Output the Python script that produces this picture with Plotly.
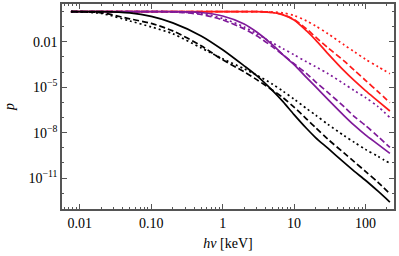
import plotly.graph_objects as go

# photon energy grid (keV)
energy = [0.0075, 0.02, 0.05, 0.1, 0.2, 0.5, 1, 2, 3, 5, 7, 10, 15, 20, 30, 50, 70, 100, 150, 220]

black_solid = [1.0, 0.985, 0.81, 0.48, 0.18, 0.0248, 0.0030, 2.6e-4, 5.8e-5, 6.0e-6, 1.13e-6, 1.57e-7, 1.89e-8, 4.8e-9, 9.1e-10, 1.09e-10, 2.8e-11, 7.2e-12, 1.36e-12, 2.6e-13]
black_dashed = [1.0, 0.83, 0.33, 0.165, 0.053, 0.0055, 6.5e-4, 1.06e-4, 3.2e-5, 6.4e-6, 2.07e-6, 4.9e-7, 8.0e-8, 2.2e-8, 3.6e-9, 4.6e-10, 1.18e-10, 2.8e-11, 5.3e-12, 9.3e-13]
black_dotted = [1.0, 0.75, 0.24, 0.097, 0.034, 0.0040, 7.6e-4, 1.67e-4, 6.3e-5, 1.6e-5, 5.5e-6, 1.65e-6, 3.9e-7, 1.46e-7, 3.5e-8, 6.5e-9, 2.3e-9, 7.9e-10, 2.7e-10, 9.4e-11]

purple_solid = [1.0, 1.0, 1.0, 1.0, 1.0, 0.87, 0.51, 0.153, 0.045, 0.0064, 0.0014, 3.1e-4, 4.3e-5, 1.09e-5, 1.53e-6, 1.35e-7, 3.0e-8, 7.1e-9, 1.7e-9, 4.3e-10]
purple_dashed = [1.0, 1.0, 1.0, 1.0, 0.94, 0.64, 0.28, 0.072, 0.025, 0.0047, 0.0014, 3.6e-4, 7.9e-5, 2.3e-5, 4.4e-6, 5.3e-7, 1.16e-7, 3.0e-8, 5.6e-9, 1.06e-9]
purple_dotted = [1.0, 1.0, 1.0, 1.0, 0.94, 0.75, 0.35, 0.097, 0.034, 0.0086, 0.0035, 0.0014, 4.8e-4, 2.3e-4, 7.9e-5, 1.7e-5, 6.0e-6, 2.1e-6, 5.3e-7, 1.0e-7]

red_solid = [1.0, 1.0, 1.0, 1.0, 1.0, 1.0, 1.0, 1.0, 1.0, 0.87, 0.60, 0.28, 0.053, 0.0135, 0.0016, 1.24e-4, 2.7e-5, 6.0e-6, 1.22e-6, 2.7e-7]
red_dashed = [1.0, 1.0, 1.0, 1.0, 1.0, 1.0, 1.0, 1.0, 1.0, 0.87, 0.64, 0.30, 0.072, 0.021, 0.0040, 5.6e-4, 1.33e-4, 2.9e-5, 5.1e-6, 9.7e-7]
red_dotted = [1.0, 1.0, 1.0, 1.0, 1.0, 1.0, 1.0, 1.0, 1.0, 0.94, 0.81, 0.55, 0.24, 0.113, 0.034, 0.0064, 0.0022, 7.1e-4, 2.3e-4, 7.9e-5]

x_tickvals = [0.01, 0.1, 1, 10, 100]
x_ticktext = ["0.01", "0.10", "1", "10", "100"]
y_tickvals = [1e-11, 1e-8, 1e-5, 0.01]
y_ticktext = ["10<sup>\u221211</sup>", "10<sup>\u22128</sup>", "10<sup>\u22125</sup>", "0.01"]

RED = "#ff1a1a"
PURPLE = "#7f1a9a"
BLACK = "#000000"
DASH = "6px,3px"
DOT = "2px,3px"

series = [
    (red_solid, RED, "solid"), (red_dashed, RED, DASH), (red_dotted, RED, DOT),
    (purple_solid, PURPLE, "solid"), (purple_dashed, PURPLE, DASH), (purple_dotted, PURPLE, DOT),
    (black_solid, BLACK, "solid"), (black_dashed, BLACK, DASH), (black_dotted, BLACK, DOT),
]

fig = go.Figure()
for vals, col, dash in series:
    fig.add_trace(go.Scatter(x=energy, y=vals, mode="lines",
                             line=dict(color=col, width=1.7, dash=dash, shape="spline", smoothing=0.8),
                             showlegend=False, hoverinfo="skip"))

minor_x = [m * 10.0 ** k for k in range(-3, 3) for m in range(2, 10)]
minor_y = [10.0 ** k for k in range(-14, 1)]

frame = "#555555"
tickfont = dict(size=14, color="black", family="Liberation Serif, serif")
fig.update_xaxes(type="log", range=[-2.25, 2.40], tickmode="array", tickvals=x_tickvals, ticktext=x_ticktext,
                 ticks="inside", ticklen=5, tickwidth=1, tickcolor=frame, automargin=False,
                 showline=True, linecolor=frame, linewidth=1.5, mirror="ticks", showgrid=False, zeroline=False,
                 minor=dict(tickmode="array", tickvals=minor_x, ticks="inside", ticklen=2.5, tickcolor=frame, showgrid=False),
                 title=dict(text="<i>h\u03bd</i> [keV]", standoff=9,
                            font=dict(size=14, color="black", family="Liberation Serif, serif")),
                 tickfont=tickfont)
fig.update_yaxes(type="log", range=[-13.04, 0.5], tickmode="array", tickvals=y_tickvals, ticktext=y_ticktext,
                 ticks="inside", ticklen=5, tickwidth=1, tickcolor=frame, automargin=False,
                 showline=True, linecolor=frame, linewidth=1.5, mirror="ticks", showgrid=False, zeroline=False,
                 minor=dict(tickmode="array", tickvals=minor_y, ticks="inside", ticklen=2.5, tickcolor=frame, showgrid=False),
                 title=dict(text="<i>p</i>", standoff=11,
                            font=dict(size=14, color="black", family="Liberation Serif, serif")),
                 tickfont=tickfont)

fig.update_layout(template="none", width=399, height=256, margin=dict(l=62, r=5, t=4, b=47),
                  paper_bgcolor="white", plot_bgcolor="white",
                  font=dict(family="Liberation Serif, serif", color="black", size=14))

fig.write_html("out.html", config={"displayModeBar": False},
               post_script="document.body.style.margin='0';document.body.style.overflow='hidden';")
